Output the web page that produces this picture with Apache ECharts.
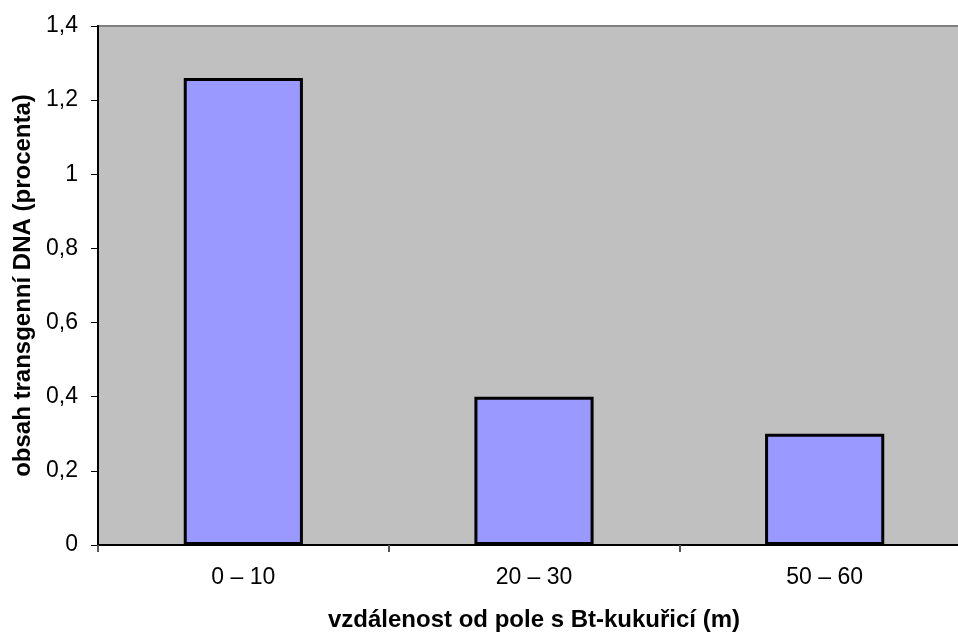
<!DOCTYPE html>
<html>
<head>
<meta charset="utf-8">
<script src="https://cdn.jsdelivr.net/npm/echarts@6/dist/echarts.min.js"></script>
<style>
  html, body { margin: 0; padding: 0; background: #ffffff; }
  #chart { width: 958px; height: 633px; }
</style>
</head>
<body>
<div id="chart"></div>
<script>
// Distance bands from the Bt-maize field
var categories = ['0 – 10', '20 – 30', '50 – 60'];
// Transgenic DNA content (percent)
var values = [1.26, 0.4, 0.3];
// Value axis range
var yMin = 0;
var yMax = 1.4;
var yStep = 0.2;

var font = '"Liberation Sans", Arial, sans-serif';

var chart = echarts.init(document.getElementById('chart'), null, { renderer: 'canvas' });
chart.setOption({
  animation: false,
  backgroundColor: '#ffffff',
  grid: {
    left: 98,
    top: 26,
    right: -12,
    bottom: 88,
    outerBoundsMode: 'none',
    show: true,
    backgroundColor: '#c0c0c0',
    borderColor: '#808080',
    borderWidth: 2
  },
  xAxis: {
    type: 'category',
    data: categories,
    name: 'vzdálenost od pole s Bt-kukuřicí (m)',
    nameLocation: 'middle',
    nameGap: 63,
    nameTextStyle: { fontFamily: font, fontSize: 24, fontWeight: 'bold', color: '#000' },
    axisLine: { lineStyle: { color: '#000', width: 2 } },
    axisTick: { show: true, alignWithLabel: false, length: 7, lineStyle: { color: '#555', width: 2 } },
    axisLabel: { fontFamily: font, fontSize: 23, color: '#000', margin: 21 },
    splitLine: { show: false }
  },
  yAxis: {
    type: 'value',
    min: yMin,
    max: yMax,
    interval: yStep,
    name: 'obsah transgenní DNA (procenta)',
    nameLocation: 'middle',
    nameGap: 62,
    nameTextStyle: { fontFamily: font, fontSize: 24, fontWeight: 'bold', color: '#000' },
    axisLine: { show: true, lineStyle: { color: '#000', width: 2 } },
    axisTick: { show: true, length: 7, lineStyle: { color: '#000', width: 1 } },
    axisLabel: {
      fontFamily: font, fontSize: 23, color: '#000', margin: 20,
      formatter: function (v) { return String(Math.round(v * 10) / 10).replace('.', ','); }
    },
    splitLine: { show: false }
  },
  series: [{
    type: 'bar',
    data: values,
    barWidth: '41%',
    itemStyle: { color: '#9999ff', borderColor: '#000', borderWidth: 3 }
  }]
});
</script>
</body>
</html>
